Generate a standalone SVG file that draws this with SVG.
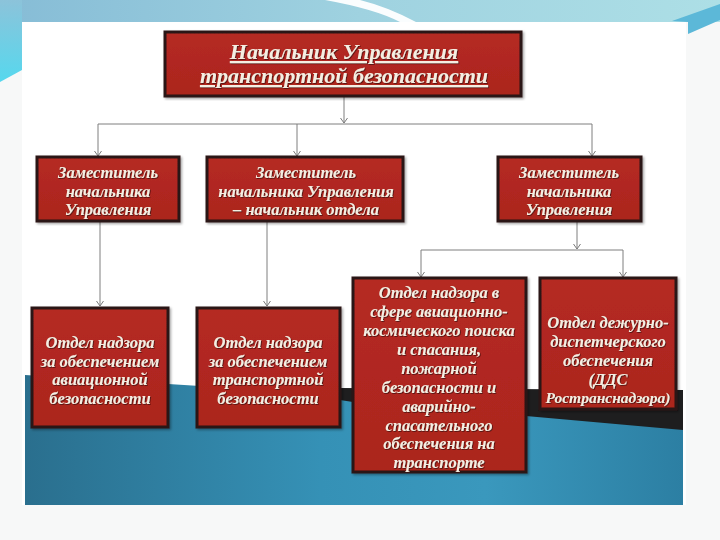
<svg xmlns="http://www.w3.org/2000/svg" width="720" height="540" viewBox="0 0 720 540">
<defs>
<linearGradient id="topband" x1="0" y1="0" x2="1" y2="0">
<stop offset="0" stop-color="#86bcd6"/>
<stop offset="0.5" stop-color="#9fd2e0"/>
<stop offset="1" stop-color="#addfe6"/>
</linearGradient>
<linearGradient id="wedge" x1="0" y1="0" x2="0" y2="1">
<stop offset="0" stop-color="#8cc3da"/>
<stop offset="1" stop-color="#56d8ee"/>
</linearGradient>
<linearGradient id="sea" x1="0" y1="0" x2="1" y2="0">
<stop offset="0" stop-color="#2a6f8e"/>
<stop offset="0.45" stop-color="#3591b6"/>
<stop offset="0.7" stop-color="#3a98bd"/>
<stop offset="1" stop-color="#2c7fa3"/>
</linearGradient>
<linearGradient id="boxfill" x1="0" y1="0" x2="0" y2="1">
<stop offset="0" stop-color="#b52a22"/>
<stop offset="1" stop-color="#ab251e"/>
</linearGradient>
<filter id="ts" x="-10%" y="-30%" width="120%" height="160%">
<feDropShadow dx="0.8" dy="0.8" stdDeviation="0.4" flood-color="#3b0e08" flood-opacity="0.9"/>
</filter>
<filter id="bs" x="-5%" y="-5%" width="112%" height="112%">
<feDropShadow dx="1.5" dy="1.5" stdDeviation="1" flood-color="#000" flood-opacity="0.35"/>
</filter>
<marker id="arr" markerWidth="8" markerHeight="8" refX="6.5" refY="4" orient="auto" markerUnits="userSpaceOnUse" viewBox="0 0 8 8">
<path d="M1.5,0.5 L6.5,4 L1.5,7.5" fill="none" stroke="#7a7a7a" stroke-width="1"/>
</marker>
</defs>
<style>
.box{fill:url(#boxfill);stroke:#2b1714;stroke-width:3;filter:url(#bs)}
.t{font-family:"Liberation Serif","DejaVu Serif",serif;font-weight:bold;font-style:italic;fill:#f5eee2;text-anchor:middle;filter:url(#ts)}
.d{font-size:16.5px}
.s{font-size:15.5px}
.ttl{font-size:22px;text-decoration:underline}
.c{fill:none;stroke:#7f7f7f;stroke-width:1}
.ca{fill:none;stroke:#7f7f7f;stroke-width:1;marker-end:url(#arr)}
</style>

<!-- background -->
<rect x="0" y="0" width="720" height="540" fill="#f7f8f8"/>
<rect x="0" y="0" width="720" height="22" fill="url(#topband)"/>
<path d="M0,0 L22,0 L22,70 L0,82 Z" fill="url(#wedge)"/>
<path d="M325,0 Q375,9 400,22 L416,22 Q388,7 360,0 Z" fill="#ffffff" opacity="0.95"/>
<path d="M672,21 L720,4 L720,20 L688,34 L688,22 Z" fill="#5cb8d8"/>
<rect x="22" y="22" width="664" height="483" fill="#ffffff"/>
<path d="M25,375 L200,386 L340,390 L683,392 L683,505 L25,505 Z" fill="url(#sea)"/>
<path d="M340,388 L683,390 L683,430 L526,416 L353,402 L340,400 Z" fill="#1e1e1f"/>

<!-- connectors -->
<g id="connectors">
<path class="ca" d="M344,96 V123"/>
<path class="c" d="M98,124 H592"/>
<path class="ca" d="M98,124 V156"/>
<path class="ca" d="M297,124 V156"/>
<path class="ca" d="M592,124 V156"/>
<path class="ca" d="M100,221 V306"/>
<path class="ca" d="M267,221 V306"/>
<path class="ca" d="M577,221 V249"/>
<path class="c" d="M421,250 H623"/>
<path class="ca" d="M421,250 V277"/>
<path class="ca" d="M623,250 V277"/>
</g>

<!-- nodes -->
<g id="head">
<rect class="box" x="165" y="32" width="356" height="64"/>
<text class="t ttl" x="344" y="59">Начальник Управления</text>
<text class="t ttl" x="344" y="83">транспортной безопасности</text>
</g>

<g id="dep1">
<rect class="box" x="37" y="157" width="142" height="64"/>
<text class="t d" x="108" y="178">Заместитель</text>
<text class="t d" x="108" y="197">начальника</text>
<text class="t d" x="108" y="215">Управления</text>
</g>

<g id="dep2">
<rect class="box" x="207" y="157" width="196" height="64"/>
<text class="t d" x="306" y="178">Заместитель</text>
<text class="t d" x="306" y="197">начальника Управления</text>
<text class="t d" x="306" y="215">– начальник отдела</text>
</g>

<g id="dep3">
<rect class="box" x="498" y="157" width="143" height="64"/>
<text class="t d" x="569" y="178">Заместитель</text>
<text class="t d" x="569" y="197">начальника</text>
<text class="t d" x="569" y="215">Управления</text>
</g>

<g id="dept1">
<rect class="box" x="32" y="308" width="136" height="119"/>
<text class="t d" x="100" y="348">Отдел надзора</text>
<text class="t d" x="100" y="367">за обеспечением</text>
<text class="t d" x="100" y="385">авиационной</text>
<text class="t d" x="100" y="404">безопасности</text>
</g>

<g id="dept2">
<rect class="box" x="197" y="308" width="143" height="119"/>
<text class="t d" x="268" y="348">Отдел надзора</text>
<text class="t d" x="268" y="367">за обеспечением</text>
<text class="t d" x="268" y="385">транспортной</text>
<text class="t d" x="268" y="404">безопасности</text>
</g>

<g id="dept3">
<rect class="box" x="353" y="278" width="173" height="194"/>
<text class="t d" x="439" y="298">Отдел надзора в</text>
<text class="t d" x="439" y="317">сфере авиационно-</text>
<text class="t d" x="439" y="336">космического поиска</text>
<text class="t d" x="439" y="355">и спасания,</text>
<text class="t d" x="439" y="374">пожарной</text>
<text class="t d" x="439" y="393">безопасности и</text>
<text class="t d" x="439" y="412">аварийно-</text>
<text class="t d" x="439" y="431">спасательного</text>
<text class="t d" x="439" y="449">обеспечения на</text>
<text class="t d" x="439" y="468">транспорте</text>
</g>

<g id="dept4">
<rect class="box" x="540" y="278" width="136" height="131"/>
<text class="t d" x="608" y="328">Отдел дежурно-</text>
<text class="t d" x="608" y="347">диспетчерского</text>
<text class="t d" x="608" y="366">обеспечения</text>
<text class="t d" x="608" y="385">(ДДС</text>
<text class="t s" x="608" y="403">Ространснадзора)</text>
</g>
</svg>
